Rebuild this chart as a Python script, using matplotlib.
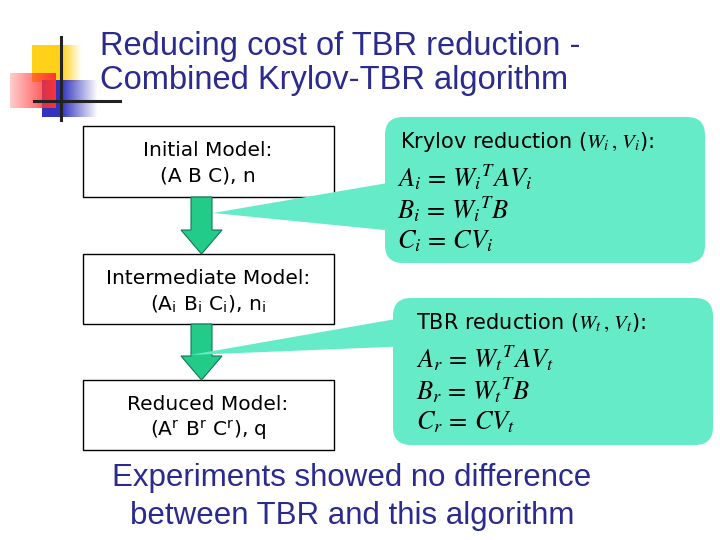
import numpy as np
import matplotlib
matplotlib.use("Agg")
import matplotlib.pyplot as plt
from matplotlib.patches import Rectangle, FancyBboxPatch, Polygon

plt.rcParams['mathtext.fontset'] = 'stix'
plt.rcParams['font.family'] = ['Liberation Sans', 'DejaVu Sans']

title_lines = ["Reducing cost of TBR reduction -", "Combined Krylov-TBR algorithm"]
model_boxes = [
    ("Initial Model:", "(A B C), n", 126, 197),
    ("Intermediate Model:", r"(A$_\mathregular{i}$ B$_\mathregular{i}$ C$_\mathregular{i}$), n$_\mathregular{i}$", 254, 324),
    ("Reduced Model:", r"(A$^\mathregular{r}$ B$^\mathregular{r}$ C$^\mathregular{r}$), q", 380, 450),
]
krylov_head = r"Krylov reduction ($W_i\,,\, V_i$):"
krylov_eqs = [r"$A_i\, =\, W_i{}^TAV_i$", r"$B_i\, =\, W_i{}^TB$", r"$C_i\, =\, CV_i$"]
tbr_head = r"TBR reduction ($W_t\,,\, V_t$):"
tbr_eqs = [r"$A_r\, =\, W_t{}^TAV_t$", r"$B_r\, =\, W_t{}^TB$", r"$C_r\, =\, CV_t$"]
footer = ["Experiments showed no difference", "between TBR and this algorithm"]

navy = '#2b2b8f'
mint = '#66ebc9'
arrow_green = '#22cc88'

fig = plt.figure(figsize=(7.2, 5.4), dpi=100)
ax = fig.add_axes([0, 0, 1, 1])
ax.set_xlim(0, 720)
ax.set_ylim(540, 0)
ax.axis('off')

# logo squares with gradients
def grad_rect(x0, x1, y0, y1, rgb, alpha):
    img = np.zeros((2, len(alpha), 4))
    img[..., :3] = rgb
    img[..., 3] = alpha
    ax.imshow(img, extent=(x0, x1, y1, y0), aspect='auto', zorder=1)

w = np.linspace(0, 1, 64)
grad_rect(32, 82, 45, 82, (1.0, 0.82, 0.1), np.clip(1 - (w - 0.6) / 0.4, 0, 1))
grad_rect(42, 98, 80, 117, (0.2, 0.2, 0.75), np.clip(1 - (w - 0.35) / 0.65, 0, 1))
grad_rect(10, 56, 73, 108, (1.0, 0.2, 0.2), 0.25 + 0.75 * w)
ax.plot([61, 61], [37, 120], color='#222222', lw=2.2, zorder=2)
ax.plot([34, 120], [101, 101], color='#222222', lw=2.2, zorder=2)

for i, line in enumerate(title_lines):
    ax.text(100, 46 + 34 * i, line, fontsize=23.5, color=navy, va='center', ha='left')

# model boxes
for head, sub, y0, y1 in model_boxes:
    ax.add_patch(Rectangle((83, y0), 251, y1 - y0, fc='white', ec='black', lw=1))
    ax.text(208, y0 + 24, head, fontsize=14.5, family='DejaVu Sans', ha='center', va='center')
    ax.text(208, y0 + 50, sub, fontsize=14.5, family='DejaVu Sans', ha='center', va='center')

# down arrows
for (_, _, _, top), (_, _, nxt, _) in zip(model_boxes[:-1], model_boxes[1:]):
    ax.add_patch(Polygon([(191, top), (212, top), (212, nxt - 24), (222, nxt - 24),
                          (201.5, nxt), (181, nxt - 24), (191, nxt - 24)],
                         fc=arrow_green, ec='#117755', lw=0.8, zorder=3))

# callouts
def callout(x0, y0, x1, y1, tip, base):
    ax.add_patch(Polygon([tip, (x0 + 20, base[0]), (x0 + 20, base[1])], fc=mint, ec='none', zorder=4))
    ax.add_patch(FancyBboxPatch((x0, y0), x1 - x0, y1 - y0, boxstyle='round,pad=0,rounding_size=18',
                                fc=mint, ec='none', zorder=4))

callout(385, 117, 705, 263, (213, 213), (180, 232))
callout(393, 298, 713, 445, (190, 355), (316, 346))

ax.text(400, 142, krylov_head, fontsize=15, family='DejaVu Sans', va='center', zorder=5)
for i, eq in enumerate(krylov_eqs):
    ax.text(397, 177 + 32 * i, eq, fontsize=19, va='center', zorder=5)
ax.text(416, 323, tbr_head, fontsize=15, family='DejaVu Sans', va='center', zorder=5)
for i, eq in enumerate(tbr_eqs):
    ax.text(416, 358 + 32 * i, eq, fontsize=19, va='center', zorder=5)

for i, line in enumerate(footer):
    ax.text(352, 478 + 38 * i, line, fontsize=22.5, color=navy, ha='center', va='center')

fig.savefig('out.png', dpi=100)
